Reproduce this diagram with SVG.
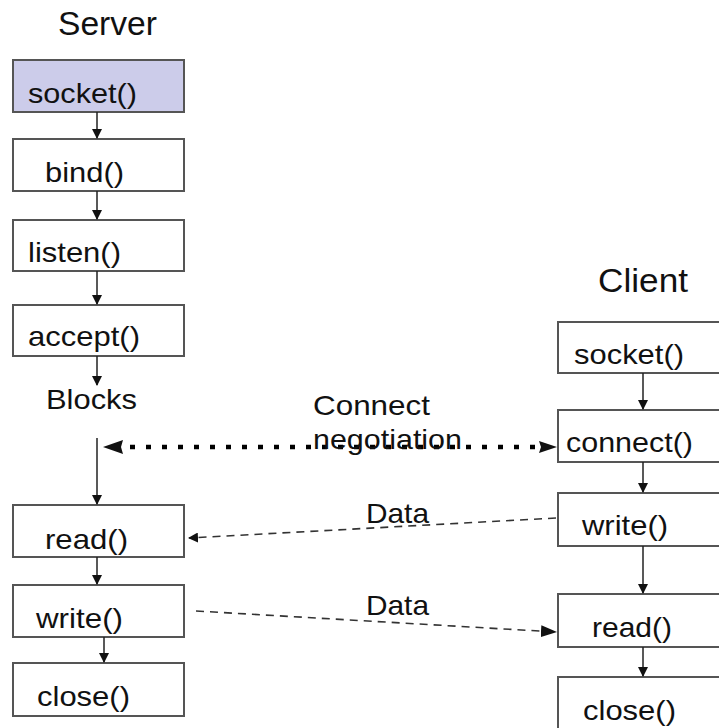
<svg xmlns="http://www.w3.org/2000/svg" width="719" height="728" viewBox="0 0 719 728">
<defs>
<style>
.box{fill:#fff;stroke:#555;stroke-width:2}
.t{font-family:"Liberation Sans",Arial,sans-serif;font-size:28px;fill:#111}
.h{font-family:"Liberation Sans",Arial,sans-serif;font-size:34px;fill:#111}
.c{stroke:#222;stroke-width:1.5;fill:none}
.d{stroke:#333;stroke-width:1.6;stroke-dasharray:8,6;fill:none}
.dot{stroke:#000;stroke-width:4.5;stroke-dasharray:5,11;fill:none}
</style>
<marker id="a" markerWidth="10" markerHeight="10" refX="9" refY="5" orient="auto" markerUnits="userSpaceOnUse"><path d="M0,0 L10,5 L0,10 z" fill="#111"/></marker>
<marker id="b" markerWidth="16" markerHeight="12" refX="15" refY="6" orient="auto" markerUnits="userSpaceOnUse"><path d="M0,0 L16,6 L0,12 z" fill="#111"/></marker>
</defs>
<text class="h" x="58" y="35" textLength="99" lengthAdjust="spacingAndGlyphs">Server</text>
<text class="h" x="598" y="292" textLength="90" lengthAdjust="spacingAndGlyphs">Client</text>
<g id="s_socket"><rect class="box" x="13" y="60" width="171" height="52" style="fill:#ccccea"/><text class="t" x="28" y="103" textLength="109" lengthAdjust="spacingAndGlyphs">socket()</text></g>
<g id="s_bind"><rect class="box" x="13" y="139" width="171" height="52"/><text class="t" x="45" y="182" textLength="79" lengthAdjust="spacingAndGlyphs">bind()</text></g>
<g id="s_listen"><rect class="box" x="13" y="220" width="171" height="51"/><text class="t" x="28" y="262" textLength="93" lengthAdjust="spacingAndGlyphs">listen()</text></g>
<g id="s_accept"><rect class="box" x="13" y="305" width="171" height="51"/><text class="t" x="28" y="346" textLength="112" lengthAdjust="spacingAndGlyphs">accept()</text></g>
<g id="s_blocks"><text class="t" x="46" y="409" textLength="91" lengthAdjust="spacingAndGlyphs">Blocks</text></g>
<g id="s_read"><rect class="box" x="13" y="505" width="171" height="52"/><text class="t" x="45" y="549" textLength="83" lengthAdjust="spacingAndGlyphs">read()</text></g>
<g id="s_write"><rect class="box" x="13" y="585" width="171" height="52"/><text class="t" x="36" y="628" textLength="87" lengthAdjust="spacingAndGlyphs">write()</text></g>
<g id="s_close"><rect class="box" x="13" y="663" width="171" height="53"/><text class="t" x="37" y="706" textLength="93" lengthAdjust="spacingAndGlyphs">close()</text></g>
<g id="c_socket"><rect class="box" x="558" y="322" width="170" height="51"/><text class="t" x="574" y="364" textLength="110" lengthAdjust="spacingAndGlyphs">socket()</text></g>
<g id="c_connect"><rect class="box" x="558" y="410" width="170" height="52"/><text class="t" x="566" y="452" textLength="127" lengthAdjust="spacingAndGlyphs">connect()</text></g>
<g id="c_write"><rect class="box" x="558" y="493" width="170" height="53"/><text class="t" x="582" y="535" textLength="86" lengthAdjust="spacingAndGlyphs">write()</text></g>
<g id="c_read"><rect class="box" x="558" y="594" width="170" height="53"/><text class="t" x="592" y="637" textLength="80" lengthAdjust="spacingAndGlyphs">read()</text></g>
<g id="c_close"><rect class="box" x="558" y="677" width="170" height="60"/><text class="t" x="583" y="720" textLength="93" lengthAdjust="spacingAndGlyphs">close()</text></g>
<g id="connectors">
<line class="c" x1="97" y1="112" x2="97" y2="138" marker-end="url(#a)"/>
<line class="c" x1="97" y1="191" x2="97" y2="219" marker-end="url(#a)"/>
<line class="c" x1="97" y1="271" x2="97" y2="304" marker-end="url(#a)"/>
<line class="c" x1="97" y1="356" x2="97" y2="385" marker-end="url(#a)"/>
<line class="c" x1="97" y1="438" x2="97" y2="504" marker-end="url(#a)"/>
<line class="c" x1="97" y1="557" x2="97" y2="584" marker-end="url(#a)"/>
<line class="c" x1="104" y1="637" x2="104" y2="662" marker-end="url(#a)"/>
<line class="c" x1="643" y1="373" x2="643" y2="409" marker-end="url(#a)"/>
<line class="c" x1="643" y1="462" x2="643" y2="492" marker-end="url(#a)"/>
<line class="c" x1="643" y1="546" x2="643" y2="593" marker-end="url(#a)"/>
<line class="c" x1="643" y1="647" x2="643" y2="676" marker-end="url(#a)"/>
<line class="dot" x1="130" y1="447" x2="540" y2="447"/>
<path d="M103,447 L123,440 L121,447 L123,454 z" fill="#111"/>
<path d="M557,447 L539,441 L541,447 L539,453 z" fill="#111"/>
<line class="d" x1="556" y1="518" x2="189" y2="538" marker-end="url(#a)"/>
<line class="d" x1="196" y1="611" x2="556" y2="632" marker-end="url(#b)"/>
<text class="t" x="313" y="415" textLength="117" lengthAdjust="spacingAndGlyphs">Connect</text>
<text class="t" x="313" y="449" textLength="149" lengthAdjust="spacingAndGlyphs">negotiation</text>
<text class="t" x="366" y="523" textLength="63" lengthAdjust="spacingAndGlyphs">Data</text>
<text class="t" x="366" y="615" textLength="63" lengthAdjust="spacingAndGlyphs">Data</text>
</g>
</svg>
